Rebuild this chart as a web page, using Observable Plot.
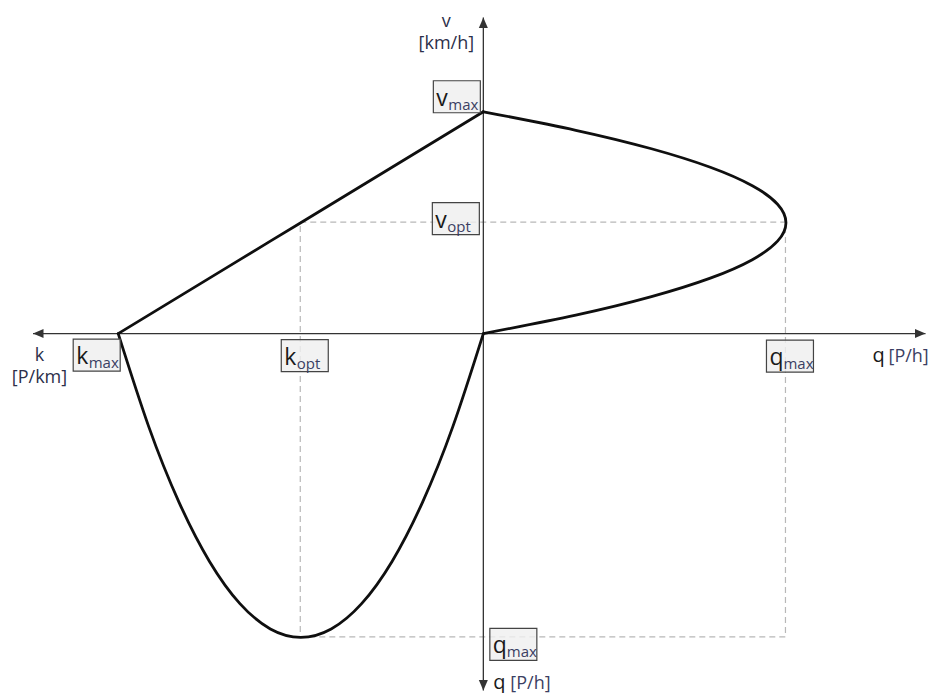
<!DOCTYPE html>
<html>
<head>
<meta charset="utf-8">
<script src="https://cdn.jsdelivr.net/npm/d3@7"></script>
<script src="https://cdn.jsdelivr.net/npm/@observablehq/plot@0.6"></script>
<style>
  html, body { margin: 0; padding: 0; background: #fff; }
  #chart svg { display: block; }
</style>
</head>
<body>
<div id="chart"></div>
<script>
// Fundamental diagram of traffic flow (Greenshields model):
// density k [P/km], speed v [km/h], flow q = k·v [P/h]
const density = [0, 10, 20, 30, 40, 50, 60, 70, 80, 90, 100, 110, 120];
const speed   = [120, 110, 100, 90, 80, 70, 60, 50, 40, 30, 20, 10, 0];
const flow    = [0, 1100, 2000, 2700, 3200, 3500, 3600, 3500, 3200, 2700, 2000, 1100, 0];

// characteristic values
const kMax = 120, kOpt = 60;
const vMax = 120, vOpt = 60;
const qMax = 3600;

// axis extents (arrow tips), in each half-axis' own unit
const kAxisEnd = 148;   // P/km, to the left
const qAxisEnd = 5260;  // P/h, to the right
const vAxisEnd = 171;   // km/h, upwards
const qDownEnd = 4230;  // P/h, downwards

const fd = density.map((k, i) => ({k, v: speed[i], q: flow[i]}));

// each half-axis carries its own unit: bring them to a common drawing length
const xLeft = 365, xRight = 302.5, yUp = 222, yDown = 304;
const xt = x => x < 0 ? x * (xLeft / kMax) : x * (xRight / qMax);
const yt = y => y > 0 ? y * (yUp / vMax) : y * (yDown / qMax);

const ink = "#0f0f0f";
const axisColor = "#333";
const subColor = "#3b3f63";
const mainColor = "#1a1a1a";
const titleColor = "#2c2f4a";

// filled arrowhead, tip at the origin, pointing up
const arrowHead = {
  draw(ctx) { ctx.moveTo(0, 0); ctx.lineTo(4.5, 10.5); ctx.lineTo(-4.5, 10.5); ctx.closePath(); }
};
// label box
const tagBox = {
  draw(ctx) { ctx.rect(-23.5, -16, 47, 32); }
};
const advance = {v: 12, k: 12.5, q: 14};

// boxed label such as v_max placed near an anchor point
function tag(x, y, main, sub, dx, dy) {
  const p = [{x, y}];
  return [
    Plot.dot(p, {x: "x", y: "y", dx, dy, symbol: tagBox, r: 3,
      fill: "#efefef", fillOpacity: 0.82, stroke: "#444", strokeWidth: 1.2}),
    Plot.text(p, {x: "x", y: "y", text: () => main, dx: dx - 20.5, dy: dy + 9,
      textAnchor: "start", lineAnchor: "bottom", fontSize: 23, fill: mainColor}),
    Plot.text(p, {x: "x", y: "y", text: () => sub, dx: dx - 20.5 + advance[main], dy: dy + 13,
      textAnchor: "start", lineAnchor: "bottom", fontSize: 15, fill: subColor})
  ];
}

const pt = (x, y) => [{x, y}];

const chart = Plot.plot({
  width: 933,
  height: 693,
  margin: 0,
  style: {background: "#fff", fontFamily: "'Open Sans', sans-serif"},
  x: {type: "linear", transform: xt, domain: [xt(-kAxisEnd), xt(qAxisEnd)], range: [32.5, 925], axis: null},
  y: {type: "linear", transform: yt, domain: [yt(-qDownEnd), yt(vAxisEnd)], range: [690, 17], axis: null},
  marks: [
    // optimum guide lines
    Plot.rect([{}], {x1: () => -kOpt, x2: () => qMax, y1: () => -qMax, y2: () => vOpt,
      fill: "none", stroke: "#b8b8b8", strokeWidth: 1.2, strokeDasharray: "6,4"}),

    // axes
    Plot.link([{}], {x1: () => -kAxisEnd, x2: () => qAxisEnd, y1: () => 0, y2: () => 0,
      stroke: axisColor, strokeWidth: 1.3}),
    Plot.link([{}], {x1: () => 0, x2: () => 0, y1: () => -qDownEnd, y2: () => vAxisEnd,
      stroke: axisColor, strokeWidth: 1.3}),
    Plot.dot([
      {x: -kAxisEnd, y: 0, a: -90},
      {x: qAxisEnd, y: 0, a: 90},
      {x: 0, y: vAxisEnd, a: 0},
      {x: 0, y: -qDownEnd, a: 180}
    ], {x: "x", y: "y", rotate: "a", symbol: arrowHead, r: 3, fill: axisColor, stroke: "none"}),

    // v–k (upper left), v–q (upper right), q–k (lower left)
    Plot.line(fd, {x: d => -d.k, y: "v", stroke: ink, strokeWidth: 2.8}),
    Plot.line(fd, {x: "q", y: "v", curve: "natural", stroke: ink, strokeWidth: 2.8}),
    Plot.line(fd, {x: d => -d.k, y: d => -d.q, curve: "natural", stroke: ink, strokeWidth: 2.8}),

    // axis titles
    Plot.text(pt(0, vAxisEnd), {x: "x", y: "y", text: () => "v\n[km/h]", dx: -37, dy: 31,
      lineAnchor: "bottom", lineHeight: 1.2, fontSize: 18, fill: titleColor}),
    Plot.text(pt(-kAxisEnd, 0), {x: "x", y: "y", text: () => "k\n[P/km]", dx: 6.5, dy: 49,
      lineAnchor: "bottom", lineHeight: 1.2, fontSize: 18, fill: titleColor}),
    Plot.text(pt(qAxisEnd, 0), {x: "x", y: "y", text: () => "q", dx: -53, dy: 28,
      textAnchor: "start", lineAnchor: "bottom", fontSize: 20, fill: mainColor}),
    Plot.text(pt(qAxisEnd, 0), {x: "x", y: "y", text: () => "[P/h]", dx: -37, dy: 28,
      textAnchor: "start", lineAnchor: "bottom", fontSize: 18, fill: subColor}),
    Plot.text(pt(0, -qDownEnd), {x: "x", y: "y", text: () => "q", dx: 10, dy: -2,
      textAnchor: "start", lineAnchor: "bottom", fontSize: 20, fill: mainColor}),
    Plot.text(pt(0, -qDownEnd), {x: "x", y: "y", text: () => "[P/h]", dx: 27, dy: -2,
      textAnchor: "start", lineAnchor: "bottom", fontSize: 18, fill: subColor}),

    // characteristic values
    ...tag(0, vMax, "v", "max", -26.5, -15),
    ...tag(0, vOpt, "v", "opt", -27.5, -4),
    ...tag(-kMax, 0, "k", "max", -21.5, 21.5),
    ...tag(-kOpt, 0, "k", "opt", 4, 22),
    ...tag(qMax, 0, "q", "max", 4, 22.5),
    ...tag(0, -qMax, "q", "max", 30, 7)
  ]
});

document.getElementById("chart").append(chart);
</script>
</body>
</html>
